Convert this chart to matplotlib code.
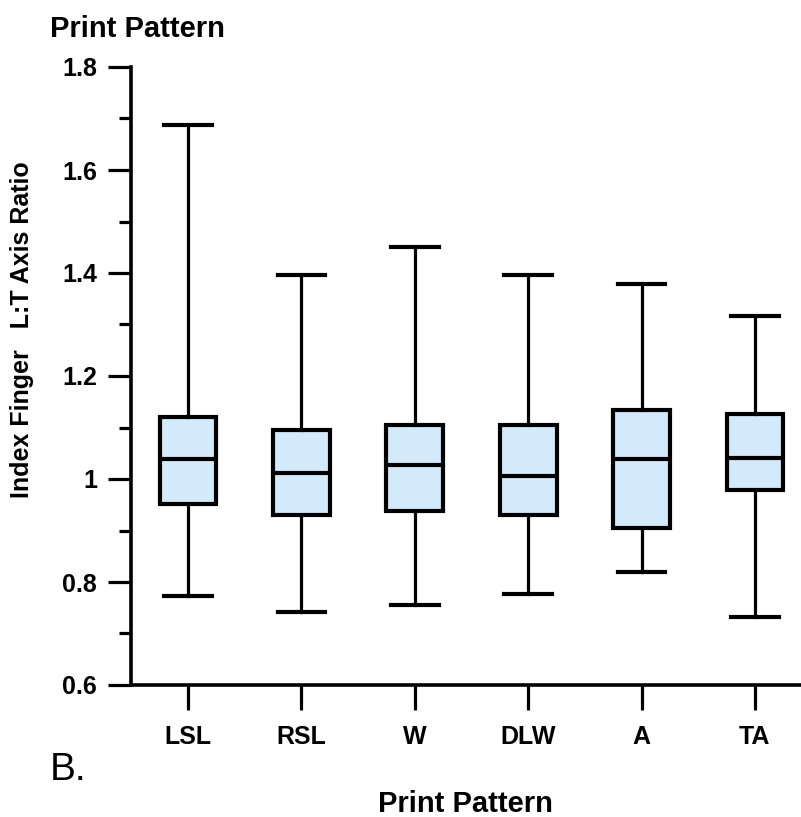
import matplotlib
matplotlib.use('Agg')
import matplotlib.pyplot as plt
from matplotlib.ticker import MultipleLocator

plt.rcParams['font.family'] = ['Liberation Sans', 'DejaVu Sans']

# Data (box plot summary per print pattern)
patterns = ['LSL', 'RSL', 'W', 'DLW', 'A', 'TA']
whisker_low = [0.772, 0.742, 0.755, 0.776, 0.819, 0.732]
q1 = [0.952, 0.930, 0.937, 0.931, 0.905, 0.979]
median = [1.039, 1.012, 1.027, 1.006, 1.039, 1.041]
q3 = [1.121, 1.095, 1.105, 1.105, 1.134, 1.126]
whisker_high = [1.687, 1.396, 1.451, 1.397, 1.378, 1.316]

W, H = 801, 817
fig = plt.figure(figsize=(W / 100, H / 100), dpi=100)
ax = fig.add_axes([131 / W, (H - 685) / H, (W - 131) / W, (685 - 67) / H])

stats = []
for i in range(len(patterns)):
    stats.append({'label': patterns[i], 'whislo': whisker_low[i], 'q1': q1[i],
                  'med': median[i], 'q3': q3[i], 'whishi': whisker_high[i],
                  'fliers': []})

ax.bxp(stats, positions=range(1, len(patterns) + 1), widths=0.5,
       patch_artist=True, showfliers=False,
       boxprops=dict(facecolor='#d2eafc', edgecolor='black', linewidth=3),
       medianprops=dict(color='black', linewidth=3),
       whiskerprops=dict(color='black', linewidth=2.3),
       capprops=dict(color='black', linewidth=3),
       capwidths=0.42)

ax.set_xlim(0.496, 6.407)
ax.set_ylim(0.6, 1.8)
ax.yaxis.set_major_locator(MultipleLocator(0.2))
ax.yaxis.set_minor_locator(MultipleLocator(0.1))
ax.set_yticklabels(['0.6', '0.8', '1', '1.2', '1.4', '1.6', '1.8'])
ax.set_yticks([0.6, 0.8, 1.0, 1.2, 1.4, 1.6, 1.8])
ax.set_xticks(range(1, len(patterns) + 1))
ax.set_xticklabels(patterns)

for s in ['top', 'right']:
    ax.spines[s].set_visible(False)
for s in ['left', 'bottom']:
    ax.spines[s].set_linewidth(2.6)

ax.tick_params(axis='y', which='major', direction='out', length=16.5, width=2.3,
               pad=8, labelsize=18)
ax.tick_params(axis='y', which='minor', direction='out', length=8.5, width=2.3)
ax.tick_params(axis='x', which='major', direction='out', length=18, width=2.3,
               pad=11, labelsize=18)
for lab in ax.get_xticklabels() + ax.get_yticklabels():
    lab.set_fontweight('bold')

fig.text(50 / W, 1 - 37 / H, 'Print Pattern', fontsize=21, fontweight='bold',
         ha='left', va='baseline')
fig.text(465 / W, 1 - 812 / H, 'Print Pattern', fontsize=21, fontweight='bold',
         ha='center', va='baseline')
fig.text(22 / W, 1 - 330 / H, 'Index Finger   L:T Axis Ratio', fontsize=18,
         fontweight='bold', rotation=90, ha='center', va='center')
fig.text(50 / W, 1 - 780 / H, 'B.', fontsize=28, ha='left', va='baseline')

fig.savefig('out.png', dpi=100)
